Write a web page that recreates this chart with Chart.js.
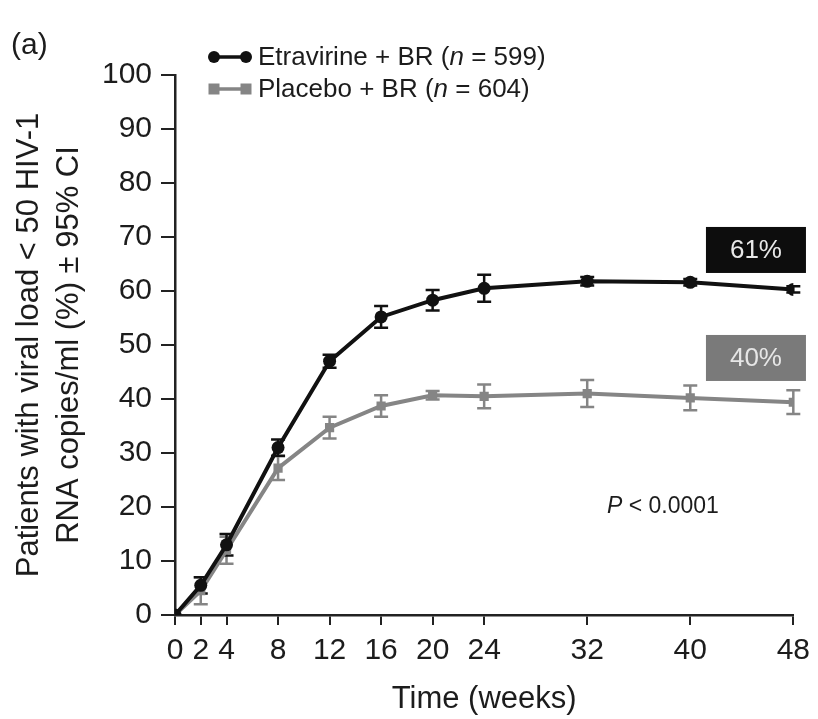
<!DOCTYPE html>
<html>
<head>
<meta charset="utf-8">
<script src="https://cdn.jsdelivr.net/npm/chart.js@4/dist/chart.umd.min.js"></script>
<style>
  html, body { margin: 0; padding: 0; background: #ffffff; }
  #wrap { width: 818px; height: 719px; position: relative; }
</style>
</head>
<body>
<div id="wrap"><canvas id="c" width="818" height="719"></canvas></div>
<script>
// ---- data ----
const weeks      = [0, 2, 4, 8, 12, 16, 20, 24, 32, 40, 48];
const xTickWeeks = [0, 2, 4, 8, 12, 16, 20, 24, 32, 40, 48];
const etravirine   = [0, 5.5, 13, 31, 47, 55.2, 58.3, 60.5, 61.8, 61.6, 60.3];
const etravirineCI = [0, 1.5, 2, 1.5, 1.2, 2, 1.9, 2.5, 0.8, 0.6, 0.6];
const placebo      = [0, 4.5, 12, 27.2, 34.7, 38.7, 40.7, 40.5, 41.0, 40.2, 39.4];
const placeboCI    = [0, 2.5, 2.5, 2.2, 2.0, 2.0, 0.8, 2.2, 2.5, 2.3, 2.2];
const seriesNames  = ['Etravirine + BR', 'Placebo + BR'];
const seriesN      = ['599', '604'];
const finalLabels  = ['61%', '40%'];
const pValueText   = '< 0.0001';

const FONT = '"Liberation Sans", Arial, Helvetica, sans-serif';
const BLACK = '#111111';
const GREY = '#858585';
const TEXT = '#1c1c1c';

function toXY(xs, ys) { return xs.map((x, i) => ({ x: x, y: ys[i] })); }

const extras = {
  id: 'extras',
  beforeDatasetsDraw(chart) {
    const ctx = chart.ctx;
    const xs = chart.scales.x, ys = chart.scales.y;
    const sets = [[etravirine, etravirineCI, BLACK], [placebo, placeboCI, GREY]];
    ctx.save();
    sets.slice().reverse().forEach(([vals, ci, col]) => {
      ctx.strokeStyle = col;
      ctx.lineWidth = 2.5;
      vals.forEach((v, i) => {
        if (!ci[i]) return;
        const px = xs.getPixelForValue(weeks[i]);
        const pt = ys.getPixelForValue(v + ci[i]);
        const pb = ys.getPixelForValue(v - ci[i]);
        ctx.beginPath();
        ctx.moveTo(px, pt); ctx.lineTo(px, pb);
        ctx.moveTo(px - 7, pt); ctx.lineTo(px + 7, pt);
        ctx.moveTo(px - 7, pb); ctx.lineTo(px + 7, pb);
        ctx.stroke();
      });
    });
    ctx.restore();
  },
  afterDraw(chart) {
    const ctx = chart.ctx;
    const xs = chart.scales.x, ys = chart.scales.y;
    ctx.save();
    // panel letter
    ctx.fillStyle = TEXT;
    ctx.font = '30px ' + FONT;
    ctx.textBaseline = 'middle';
    ctx.textAlign = 'left';
    ctx.fillText('(a)', 11, 46);

    // legend
    const rows = [
      { y: 57, col: BLACK, style: 'circle', name: seriesNames[0], n: seriesN[0] },
      { y: 89, col: GREY, style: 'rect', name: seriesNames[1], n: seriesN[1] }
    ];
    rows.forEach(r => {
      ctx.strokeStyle = r.col; ctx.fillStyle = r.col; ctx.lineWidth = 3.5;
      ctx.beginPath(); ctx.moveTo(214, r.y); ctx.lineTo(246, r.y); ctx.stroke();
      [214, 246].forEach(cx => {
        ctx.beginPath();
        if (r.style === 'circle') ctx.arc(cx, r.y, 6, 0, Math.PI * 2);
        else ctx.rect(cx - 5.5, r.y - 5.5, 11, 11);
        ctx.fill();
      });
      ctx.fillStyle = TEXT;
      let x = 258;
      const seg = (t, italic) => {
        ctx.font = (italic ? 'italic ' : '') + '26px ' + FONT;
        ctx.fillText(t, x, r.y + 1);
        x += ctx.measureText(t).width;
      };
      seg(r.name + ' (', false);
      seg('n', true);
      seg(' = ' + r.n + ')', false);
    });

    // final value boxes
    const boxes = [
      { v: 67.6, bg: '#0d0d0d', fg: '#e8e8e8', t: finalLabels[0] },
      { v: 47.6, bg: '#7a7a7a', fg: '#e6e6e6', t: finalLabels[1] }
    ];
    boxes.forEach(b => {
      const cx = xs.getPixelForValue(45.1);
      const cy = ys.getPixelForValue(b.v);
      ctx.fillStyle = b.bg;
      ctx.fillRect(cx - 50, cy - 23, 100, 46);
      ctx.fillStyle = b.fg;
      ctx.font = '26px ' + FONT;
      ctx.textAlign = 'center';
      ctx.fillText(b.t, cx, cy + 1);
    });

    // p value
    ctx.textAlign = 'left';
    ctx.fillStyle = TEXT;
    let px = 607;
    const py = ys.getPixelForValue(20);
    ctx.font = 'italic 23px ' + FONT;
    ctx.fillText('P', px, py);
    px += ctx.measureText('P ').width;
    ctx.font = '23px ' + FONT;
    ctx.fillText(pValueText, px, py);
    ctx.restore();
  }
};

new Chart(document.getElementById('c'), {
  type: 'line',
  data: {
    datasets: [
      {
        label: seriesNames[0],
        data: toXY(weeks, etravirine),
        borderColor: BLACK,
        backgroundColor: BLACK,
        borderWidth: 4,
        pointStyle: 'circle',
        pointRadius: 6.5,
        pointBorderWidth: 0,
        tension: 0
      },
      {
        label: seriesNames[1],
        data: toXY(weeks, placebo),
        borderColor: GREY,
        backgroundColor: GREY,
        borderWidth: 4,
        pointStyle: 'rect',
        pointRadius: 6.5,
        pointBorderWidth: 0,
        tension: 0
      }
    ]
  },
  options: {
    responsive: false,
    animation: false,
    events: [],
    layout: { padding: { top: 75, right: 20, bottom: 0, left: 0 } },
    plugins: { legend: { display: false }, tooltip: { enabled: false } },
    scales: {
      x: {
        type: 'linear',
        min: 0, max: 48,
        afterBuildTicks: s => { s.ticks = xTickWeeks.map(v => ({ value: v })); },
        afterFit: s => { s.height = 104; },
        ticks: {
          autoSkip: false, maxRotation: 0, padding: 8,
          color: TEXT, font: { family: FONT, size: 30 },
          callback: v => String(v)
        },
        grid: { drawOnChartArea: false, drawTicks: true, tickLength: 10, color: '#222', lineWidth: 2 },
        border: { display: true, color: '#222', width: 2.5 },
        title: {
          display: true, text: 'Time (weeks)', color: TEXT,
          font: { family: FONT, size: 31 }, padding: { top: 0, bottom: 1 }
        }
      },
      y: {
        min: 0, max: 100,
        afterFit: s => { s.width = 175; },
        ticks: {
          stepSize: 10, padding: 9,
          color: TEXT, font: { family: FONT, size: 30 }
        },
        grid: { drawOnChartArea: false, drawTicks: true, tickLength: 14, color: '#222', lineWidth: 2 },
        border: { display: true, color: '#222', width: 2.5 },
        title: {
          display: true,
          text: ['Patients with viral load < 50 HIV-1', 'RNA copies/ml (%) ± 95% CI'],
          color: TEXT,
          font: { family: FONT, size: 31, lineHeight: 1.3 },
          padding: { top: 9, bottom: 0 }
        }
      }
    }
  },
  plugins: [extras]
});
</script>
</body>
</html>
